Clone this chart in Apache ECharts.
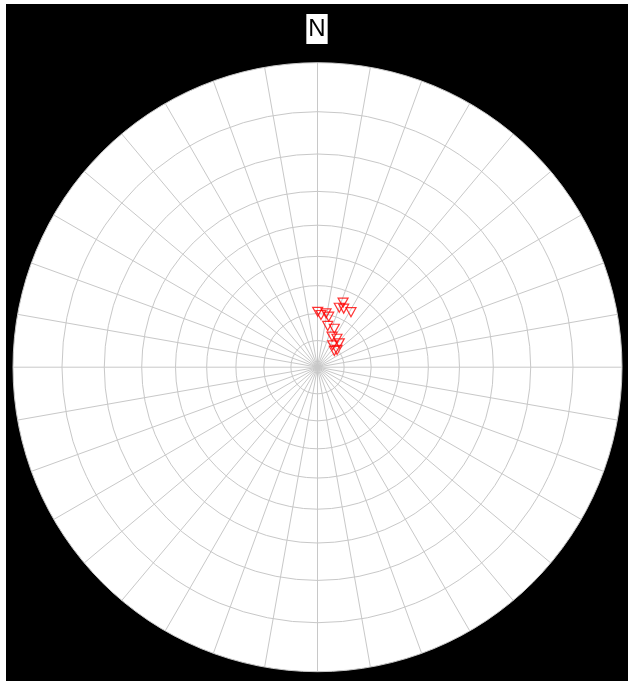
<!DOCTYPE html>
<html>
<head>
<meta charset="utf-8">
<script src="https://cdn.jsdelivr.net/npm/echarts@6/dist/echarts.min.js"></script>
<style>
  html, body { margin: 0; padding: 0; background: #fff; }
  #chart { position: absolute; left: 6px; top: 4px; width: 622px; height: 677px; }
</style>
</head>
<body>
<div id="chart"></div>
<script>
// Pole azimuths (degrees clockwise from north) and plunges (degrees)
const azimuth = [21.6, 20.1, 31.3, 24.1, 0.2, 3.8, 9.0, 12.5, 13.9, 23.6, 25.4, 34.4, 42.4, 34.8, 48.6, 46.0];
const plunge  = [64.3, 66.5, 66.1, 66.2, 69.4, 70.5, 69.7, 70.7, 74.1, 74.3, 77.3, 77.1, 77.9, 80.0, 80.2, 81.2];
// Grid: plunge circles and azimuth spokes
const plungeTicks = [90, 80, 70, 60, 50, 40, 30, 20, 10, 0];
const azimuthStep = 10;
const northLabel = 'N';

// Stereographic (equal-angle) projection of a plunge to a unit radius
const stereo = p => Math.tan((90 - p) / 2 * Math.PI / 180);

const ringRadii = plungeTicks.map(stereo);
const points = azimuth.map((a, i) => [stereo(plunge[i]), a]);

const CX = 311.5, CY = 363.2, R = 304.5;

const chart = echarts.init(document.getElementById('chart'), null, { renderer: 'canvas' });
chart.setOption({
  backgroundColor: '#000',
  animation: false,
  title: {
    text: northLabel,
    left: 'center',
    top: 10,
    backgroundColor: '#fff',
    padding: [3, 2],
    textStyle: { fontSize: 24, fontWeight: 'normal', color: '#000', fontFamily: 'Liberation Sans' }
  },
  graphic: [{
    type: 'circle', z: -100, zlevel: 0, silent: true,
    shape: { cx: CX, cy: CY, r: R },
    style: { fill: '#ffffff' }
  }],
  polar: { center: [CX, CY], radius: R },
  angleAxis: {
    type: 'value', min: 0, max: 360, interval: azimuthStep,
    startAngle: 90, clockwise: true,
    axisLine: { show: false }, axisTick: { show: false }, axisLabel: { show: false },
    splitLine: { show: true, lineStyle: { color: '#c8c8c8', width: 1 } },
    splitArea: { show: false }
  },
  radiusAxis: {
    type: 'value', min: 0, max: 1,
    axisLine: { show: false },
    axisTick: { show: false, customValues: ringRadii },
    axisLabel: { show: false, customValues: ringRadii },
    splitLine: { show: true, lineStyle: { color: '#c8c8c8', width: 1 } },
    splitArea: { show: false }
  },
  series: [{
    type: 'scatter',
    coordinateSystem: 'polar',
    symbol: 'triangle',
    symbolRotate: 180,
    symbolSize: [10, 9],
    itemStyle: { color: 'rgba(0,0,0,0)', borderColor: '#ff0000', borderWidth: 1.2 },
    data: points
  }]
});
</script>
</body>
</html>
